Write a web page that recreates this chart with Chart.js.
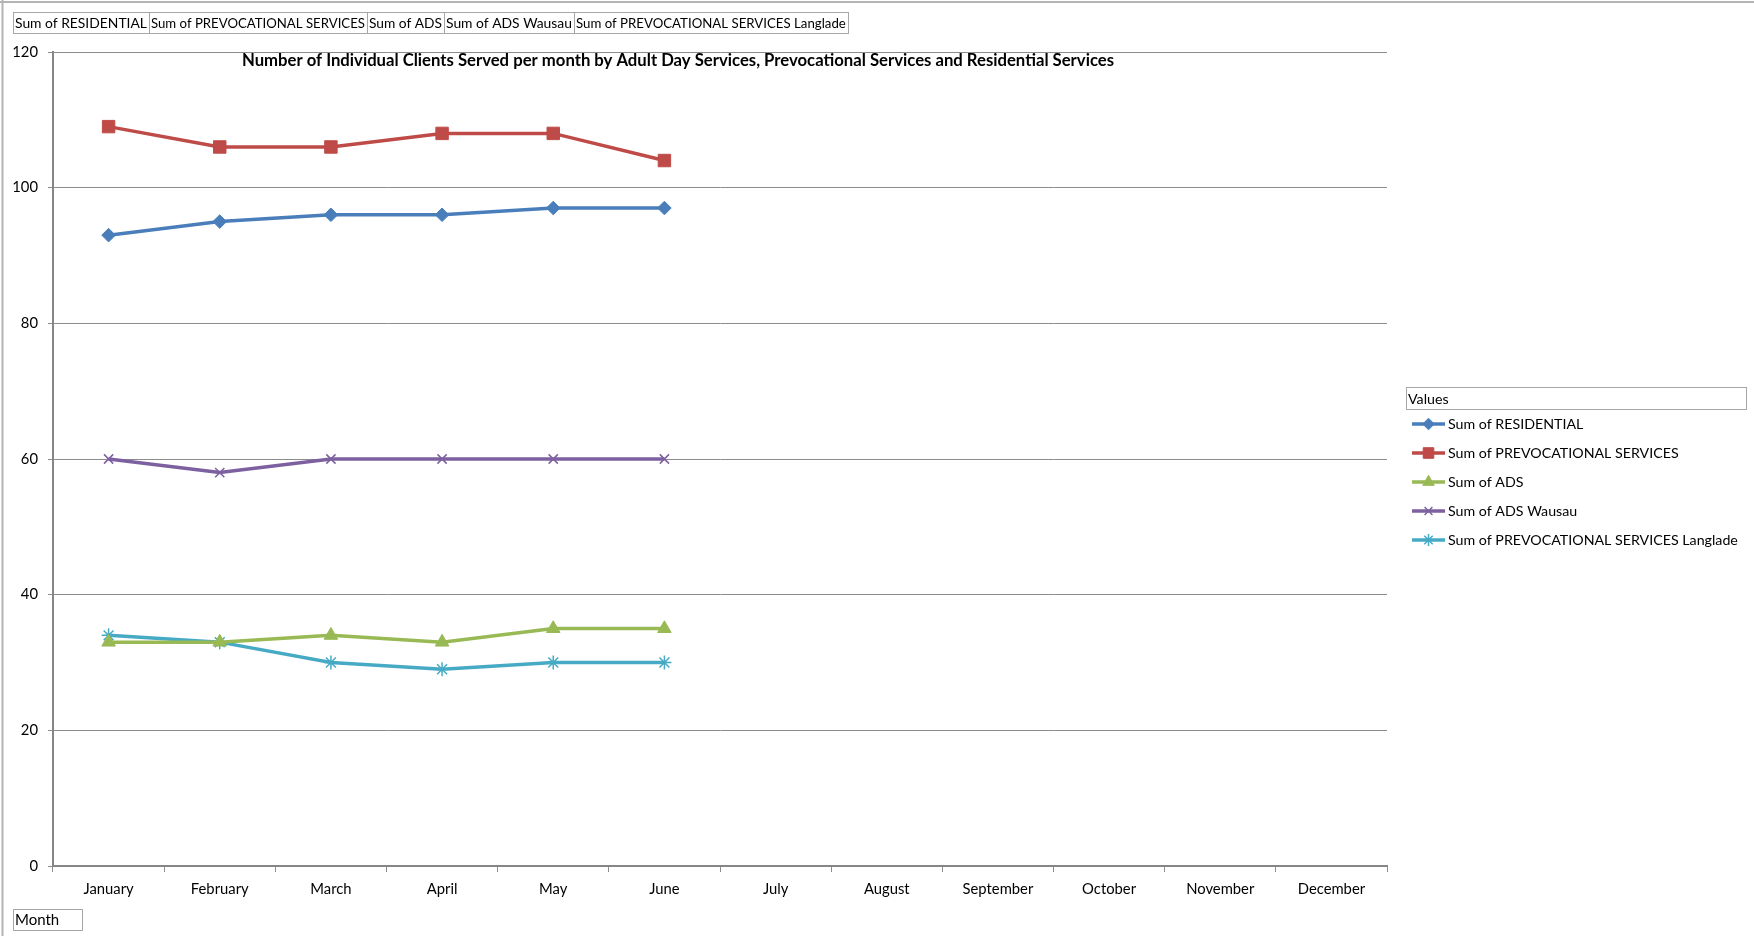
<!DOCTYPE html>
<html>
<head>
<meta charset="utf-8">
<script src="https://cdn.jsdelivr.net/npm/chart.js@4/dist/chart.umd.min.js"></script>
<style>
  html, body { margin: 0; padding: 0; background: #ffffff; }
  #wrap { position: relative; width: 1754px; height: 936px; }
</style>
</head>
<body>
<div id="wrap"><canvas id="chart" width="1754" height="936"></canvas></div>
<script>
// Months on the category axis
const months = ['January', 'February', 'March', 'April', 'May', 'June',
                'July', 'August', 'September', 'October', 'November', 'December'];

// Clients served per month (January to June reported)
const residential      = [93, 95, 96, 96, 97, 97];
const prevocational    = [109, 106, 106, 108, 108, 104];
const ads              = [33, 33, 34, 33, 35, 35];
const adsWausau        = [60, 58, 60, 60, 60, 60];
const prevocLanglade   = [34, 33, 30, 29, 30, 30];

// Series names
const seriesNames = ['Sum of RESIDENTIAL', 'Sum of PREVOCATIONAL SERVICES', 'Sum of ADS',
                     'Sum of ADS Wausau', 'Sum of PREVOCATIONAL SERVICES Langlade'];

// Value axis ticks
const yTicks = [0, 20, 40, 60, 80, 100, 120];

const chartTitle = 'Number of Individual Clients Served per month by Adult Day Services, Prevocational Services and Residential Services';
const axisFieldLabel = 'Month';
const legendHeading = 'Values';

const FONT = 'Lato, "Open Sans", sans-serif';

const colors = ['#4A7EBB', '#BE4B48', '#98B954', '#7D60A0', '#46AAC5'];
const pointStyles = ['rectRot', 'rect', 'triangle', 'crossRot', 'star'];
const pointRadii = [6.8, 8.8, 7.8, 6.5, 7];
const pointBorders = [1, 1, 1, 1.5, 1.5];
const seriesData = [residential, prevocational, ads, adsWausau, prevocLanglade];

const datasets = seriesData.map((vals, i) => ({
  label: seriesNames[i],
  data: vals,
  borderColor: colors[i],
  backgroundColor: colors[i],
  borderWidth: 3.5,
  pointStyle: pointStyles[i],
  pointRadius: pointRadii[i],
  pointHoverRadius: pointRadii[i],
  pointBorderWidth: pointBorders[i],
  pointBackgroundColor: colors[i],
  pointBorderColor: colors[i],
  tension: 0,
  fill: false
}));

// Font size that makes a string span the given width
function fitSize(ctx, text, weight, width, maxSize) {
  ctx.font = weight + '20px ' + FONT;
  const s = 20 * width / ctx.measureText(text).width;
  return Math.min(maxSize, s);
}

// Frame, field buttons, title and legend drawn around the plot
const decorations = {
  id: 'decorations',
  beforeDraw(chart) {
    const ctx = chart.ctx;
    ctx.save();
    ctx.fillStyle = '#ffffff';
    ctx.fillRect(0, 0, chart.width, chart.height);
    ctx.restore();
  },
  afterDraw(chart) {
    const ctx = chart.ctx;
    ctx.save();

    // outer frame (top and left edges)
    ctx.strokeStyle = '#b4b4b4';
    ctx.lineWidth = 2;
    ctx.beginPath();
    ctx.moveTo(0, 2); ctx.lineTo(chart.width, 2);
    ctx.moveTo(2.5, 0); ctx.lineTo(2.5, chart.height);
    ctx.stroke();

    // field buttons along the top
    const edges = [13, 149, 367, 444, 574, 848];
    ctx.textBaseline = 'middle';
    ctx.textAlign = 'left';
    ctx.lineWidth = 1;
    for (let i = 0; i < seriesNames.length; i++) {
      const x0 = edges[i], x1 = edges[i + 1];
      ctx.strokeStyle = '#a6a6a6';
      ctx.strokeRect(x0 + 0.5, 12.5, x1 - x0, 21);
      const fs = fitSize(ctx, seriesNames[i], '', x1 - x0 - 4, 14.5);
      ctx.font = fs.toFixed(2) + 'px ' + FONT;
      ctx.fillStyle = '#000000';
      ctx.fillText(seriesNames[i], x0 + 2, 23.5);
    }

    // axis field button
    ctx.strokeStyle = '#a6a6a6';
    ctx.strokeRect(13.5, 909.5, 69, 21);
    ctx.fillStyle = '#000000';
    ctx.font = '15px ' + FONT;
    ctx.fillText(axisFieldLabel, 15, 920.5);

    // chart title, fitted to its width
    const ts = fitSize(ctx, chartTitle, 'bold ', 872, 30);
    ctx.font = 'bold ' + ts.toFixed(2) + 'px ' + FONT;
    ctx.textAlign = 'center';
    ctx.fillText(chartTitle, 678, 61);

    // legend
    ctx.textAlign = 'left';
    ctx.strokeStyle = '#a6a6a6';
    ctx.lineWidth = 1;
    ctx.strokeRect(1406.5, 387.5, 340, 22);
    const ls = fitSize(ctx, seriesNames[4], '', 290, 15);
    ctx.font = ls.toFixed(2) + 'px ' + FONT;
    ctx.fillStyle = '#000000';
    ctx.fillText(legendHeading, 1408, 399);

    const rows = [424, 453, 482, 511, 540];
    chart.data.datasets.forEach((ds, i) => {
      const y = rows[i];
      ctx.strokeStyle = ds.borderColor;
      ctx.lineWidth = 3.5;
      ctx.beginPath();
      ctx.moveTo(1412, y);
      ctx.lineTo(1445, y);
      ctx.stroke();
      ctx.fillStyle = ds.borderColor;
      ctx.strokeStyle = ds.borderColor;
      ctx.lineWidth = ds.pointBorderWidth;
      if (Chart.helpers && Chart.helpers.drawPoint) {
        Chart.helpers.drawPoint(ctx, {
          pointStyle: ds.pointStyle,
          radius: ds.pointRadius * 0.85,
          rotation: 0,
          borderWidth: ds.pointBorderWidth
        }, 1428.5, y);
      }
      ctx.fillStyle = '#000000';
      ctx.font = ls.toFixed(2) + 'px ' + FONT;
      ctx.fillText(ds.label, 1448, y + 0.5);
    });

    ctx.restore();
  }
};

new Chart(document.getElementById('chart'), {
  type: 'line',
  data: { labels: months, datasets },
  options: {
    responsive: false,
    animation: false,
    devicePixelRatio: 1,
    layout: { padding: { left: 0, top: 52, right: 367, bottom: 0 } },
    plugins: {
      legend: { display: false },
      title: { display: false },
      tooltip: { enabled: false }
    },
    scales: {
      x: {
        type: 'category',
        offset: true,
        afterFit(scale) { scale.height = 70; },
        grid: {
          offset: true,
          drawOnChartArea: false,
          drawTicks: true,
          tickLength: 6,
          color: '#8c8c8c',
          lineWidth: 1
        },
        border: { display: true, color: '#868686', width: 2 },
        ticks: {
          color: '#000000',
          font: { family: FONT, size: 14.8 },
          padding: 8,
          maxRotation: 0,
          autoSkip: false
        }
      },
      y: {
        min: 0,
        max: 120,
        afterFit(scale) { scale.width = 53; },
        afterBuildTicks(scale) { scale.ticks = yTicks.map(v => ({ value: v })); },
        grid: {
          drawOnChartArea: true,
          drawTicks: true,
          tickLength: 5,
          color: '#8c8c8c',
          lineWidth: 1
        },
        border: { display: true, color: '#868686', width: 2 },
        ticks: {
          color: '#000000',
          font: { family: FONT, size: 14.8 },
          padding: 10
        }
      }
    }
  },
  plugins: [decorations]
});
</script>
</body>
</html>
